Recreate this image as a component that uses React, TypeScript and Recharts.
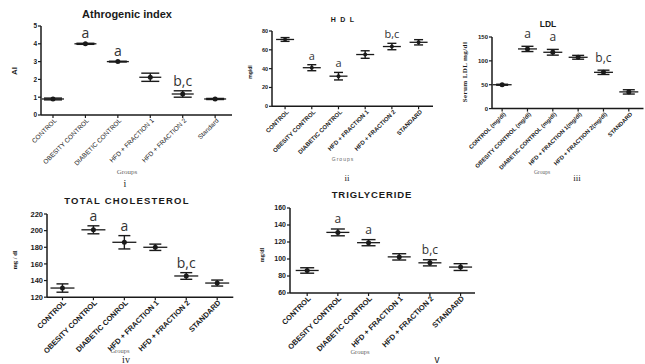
import { ScatterChart, Scatter, XAxis, YAxis, ErrorBar } from "recharts";

// ---- data ----
const groupsAI = ["CONTROL", "OBESITY CONTROL", "DIABETIC CONTROL", "HFD + FRACTION 1", "HFD + FRACTION 2", "Standard"];
const groupsHDL = ["CONTROL", "OBESITY CONTROL", "DIABETIC CONTROL", "HFD + FRACTION 1", "HFD + FRACTION 2", "STANDARD"];
const groupsLDL = ["CONTROL (mg/dl)", "OBESITY CONTROL (mg/dl)", "DIABETIC CONTROL (mg/dl)", "HFD + FRACTION 1(mg/dl)", "HFD + FRACTION 2(mg/dl)", "STANDARD"];
const groupsTC = ["CONTROL", "OBESITY CONTROL", "DIABETIC CONROL", "HFD + FRACTION 1", "HFD + FRACTION 2", "STANDARD"];
const groupsTG = ["CONTROL", "OBESITY CONTROL", "DIABETIC CONTROL", "HFD + FRACTION 1", "HFD + FRACTION 2", "STANDARD"];

const aiMean = [0.9, 4.0, 3.0, 2.12, 1.18, 0.9];
const aiErr = [0.05, 0.03, 0.02, 0.23, 0.18, 0.03];
const hdlMean = [71, 41, 32, 55, 63.5, 68];
const hdlErr = [2, 3.2, 4, 4, 3.4, 2.8];
const ldlMean = [50, 125, 118, 107.5, 76, 35];
const ldlErr = [1, 5.5, 6, 4, 4.5, 4.5];
const tcMean = [131, 201, 186, 180, 145.5, 137];
const tcErr = [5, 4.8, 8, 3.8, 4, 3.6];
const tgMean = [86.5, 131.3, 119.2, 102.5, 95.5, 90.5];
const tgErr = [3.2, 4, 3.6, 3.7, 3.6, 4];

const sigLetters = ["", "a", "a", "", "b,c", ""];

const ticksAI = [0, 1, 2, 3, 4, 5];
const ticksHDL = [0, 20, 40, 60, 80];
const ticksLDL = [0, 50, 100, 150];
const ticksTC = [120, 140, 160, 180, 200, 220];
const ticksTG = [60, 80, 100, 120, 140, 160];

const SANS = "'Liberation Sans', Arial, sans-serif";
const SERIF = "'Liberation Serif', 'Times New Roman', serif";
const INK = "#1a1a1a";

function Txt({ x, y, children, size, bold, family = SANS, rot = 0, color = INK, spacing = 0 }: any) {
  return (
    <div
      style={{
        position: "absolute",
        left: x,
        top: y,
        transform: `translate(-50%, -50%) rotate(${rot}deg)`,
        whiteSpace: "nowrap",
        fontFamily: family,
        fontSize: size,
        fontWeight: bold ? 700 : 400,
        color,
        letterSpacing: spacing,
        lineHeight: 1,
      }}
    >
      {children}
    </div>
  );
}

type PanelProps = {
  plot: [number, number, number, number];
  xDomain: [number, number];
  yTicks: number[];
  groups: string[];
  means: number[];
  errs: number[];
  yFont: number;
  xFont: number;
  xWeight: number;
  xFamily?: string;
  half: number;
  cap: number;
  dot: number;
  sigFont: number;
  sigLift: number;
  axisH: number;
  right?: number;
};

function Panel({ plot, xDomain, yTicks, groups, means, errs, yFont, xFont, xWeight, xFamily = SANS, half, cap, dot, sigFont, sigLift, axisH, right = 5 }: PanelProps) {
  const [x0, y0, x1, y1] = plot;
  const yW = 30;
  const padTop = 18;
  const left = x0 - yW;
  const top = y0 - padTop;
  const width = x1 - left + right;
  const height = y1 - top + axisH;

  const points = means.map((m, i) => ({ x: i, y: m, err: errs[i] }));
  const sigPoints = means
    .map((m, i) => ({ x: i, y: m + errs[i], sig: sigLetters[i] }))
    .filter((p) => p.sig);

  const meanShape = (p: any) => (
    <g>
      <line x1={p.cx - half} x2={p.cx + half} y1={p.cy} y2={p.cy} stroke={INK} strokeWidth={1.3} />
      <circle cx={p.cx} cy={p.cy} r={dot} fill={INK} />
    </g>
  );
  const sigShape = (p: any) => (
    <text x={p.cx} y={p.cy - sigLift} textAnchor="middle" fontSize={sigFont} fontFamily="'Open Sans', sans-serif" fill="#333">
      {p.payload.sig}
    </text>
  );
  const slantTick = (p: any) => (
    <text
      transform={`translate(${p.x + 4},${p.y + 3}) rotate(-45)`}
      textAnchor="end"
      fontSize={xFont}
      fontWeight={xWeight}
      fontFamily={xFamily}
      fill={INK}
    >
      {groups[p.payload.value]}
    </text>
  );

  return (
    <div style={{ position: "absolute", left, top }}>
      <ScatterChart width={width} height={height} margin={{ top: padTop, right, bottom: 0, left: 0 }}>
        <XAxis
          type="number"
          dataKey="x"
          domain={xDomain}
          ticks={[0, 1, 2, 3, 4, 5]}
          interval={0}
          height={axisH}
          tickSize={3}
          tickMargin={0}
          tick={slantTick}
          axisLine={{ stroke: INK, strokeWidth: 1.5 }}
          tickLine={{ stroke: INK, strokeWidth: 1.2 }}
        />
        <YAxis
          type="number"
          dataKey="y"
          domain={[yTicks[0], yTicks[yTicks.length - 1]]}
          ticks={yTicks}
          interval={0}
          width={yW}
          tickSize={3}
          tickMargin={1}
          tick={{ fontSize: yFont, fontWeight: 700, fill: INK, fontFamily: SANS }}
          axisLine={{ stroke: INK, strokeWidth: 1.5 }}
          tickLine={{ stroke: INK, strokeWidth: 1.2 }}
        />
        <Scatter data={points} shape={meanShape} isAnimationActive={false}>
          <ErrorBar dataKey="err" direction="y" width={cap} stroke={INK} strokeWidth={1.4} />
        </Scatter>
        <Scatter data={sigPoints} shape={sigShape} isAnimationActive={false} />
      </ScatterChart>
    </div>
  );
}

export default function App() {
  return (
    <div style={{ position: "absolute", left: 0, top: 0, width: 645, height: 364, overflow: "hidden", background: "#fff" }}>
      {/* i */}
      <Panel plot={[41, 26, 232, 115]} xDomain={[-0.37, 5.52]} yTicks={ticksAI} groups={groupsAI} means={aiMean} errs={aiErr}
        yFont={6.5} xFont={6.5} xWeight={400} xFamily="'Liberation Sans Narrow', 'Liberation Sans', sans-serif"
        half={11} cap={9} dot={2.5} sigFont={14} sigLift={5} axisH={60} />
      <Txt x={127} y={14} size={11} bold>Athrogenic index</Txt>
      <Txt x={15} y={71} size={8} bold rot={-90}>AI</Txt>
      <Txt x={127} y={172} size={7} family={SERIF} color="#666">Groups</Txt>
      <Txt x={125} y={184} size={10} family={SERIF}>i</Txt>

      {/* ii */}
      <Panel plot={[272, 30.7, 433, 106]} xDomain={[-0.49, 5.54]} yTicks={ticksHDL} groups={groupsHDL} means={hdlMean} errs={hdlErr}
        yFont={5.5} xFont={6} xWeight={700} half={9} cap={4.5} dot={2} sigFont={11} sigLift={5} axisH={60} />
      <Txt x={343} y={19} size={7} bold spacing={1.2}>H D L</Txt>
      <Txt x={250} y={72} size={5} bold rot={-90}>mg/dl</Txt>
      <Txt x={343} y={159} size={5} color="#666" spacing={1}>Groups</Txt>
      <Txt x={347} y={178} size={9} family={SERIF}>ii</Txt>

      {/* iii */}
      <Panel plot={[491.5, 36.7, 643, 108.3]} xDomain={[-0.4, 5.58]} yTicks={ticksLDL} groups={groupsLDL} means={ldlMean} errs={ldlErr}
        yFont={6} xFont={5.8} xWeight={700} half={9.5} cap={6} dot={2.5} sigFont={12} sigLift={8} axisH={75} right={2} />
      <Txt x={548} y={24} size={8.5} bold>LDL</Txt>
      <Txt x={465} y={72} size={7} bold family={SERIF} rot={-90} spacing={0.4}>Serum LDL mg/dl</Txt>
      <Txt x={542} y={173} size={5.5} family={SERIF} color="#666">Groups</Txt>
      <Txt x={577} y={178} size={9} family={SERIF}>iii</Txt>

      {/* iv */}
      <Panel plot={[46.7, 214.3, 233, 297.5]} xDomain={[-0.5, 5.52]} yTicks={ticksTC} groups={groupsTC} means={tcMean} errs={tcErr}
        yFont={7.5} xFont={7.5} xWeight={700} half={12} cap={6} dot={2.5} sigFont={14} sigLift={5} axisH={70} />
      <Txt x={127} y={201} size={9.5} bold spacing={1.2}>TOTAL CHOLESTEROL</Txt>
      <Txt x={15} y={260} size={6.5} bold family={SERIF} rot={-90}>mg / dl</Txt>
      <Txt x={120} y={351} size={6.5} family={SERIF} color="#666">Groups</Txt>
      <Txt x={126} y={360} size={10} family={SERIF}>iv</Txt>

      {/* v */}
      <Panel plot={[290, 208.3, 475, 293.3]} xDomain={[-0.56, 5.47]} yTicks={ticksTG} groups={groupsTG} means={tgMean} errs={tgErr}
        yFont={7} xFont={7.5} xWeight={700} half={11.5} cap={7} dot={2.5} sigFont={12} sigLift={6} axisH={70} />
      <Txt x={372} y={195} size={9.5} bold spacing={0.9}>TRIGLYCERIDE</Txt>
      <Txt x={262} y={255} size={6} bold family={SERIF} rot={-90}>mg/dl</Txt>
      <Txt x={360} y={352} size={6.5} family={SERIF} color="#666">Groups</Txt>
      <Txt x={437} y={360} size={10}>v</Txt>
    </div>
  );
}
